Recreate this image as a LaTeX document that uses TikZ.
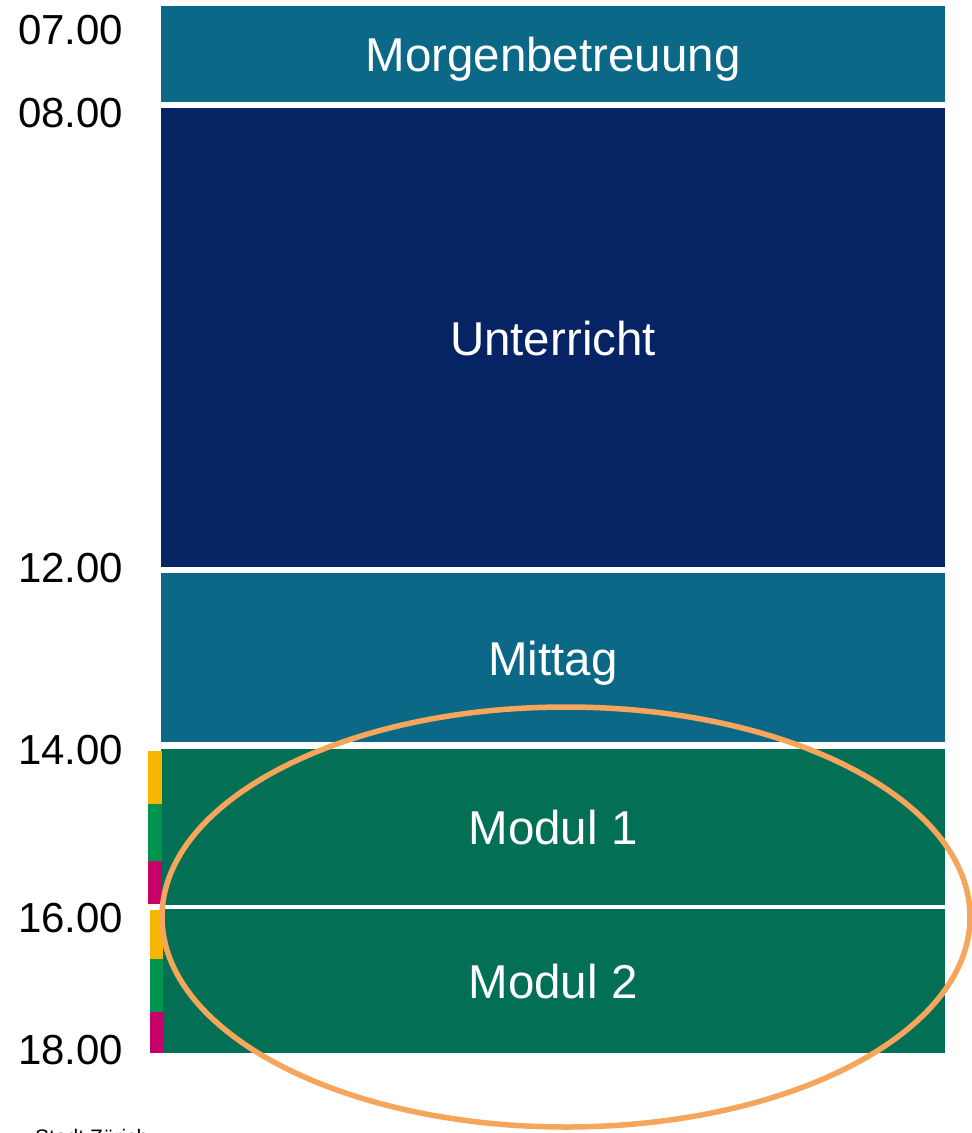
\documentclass[tikz,border=0pt]{standalone}
\usepackage{fontspec}
\setmainfont{Liberation Sans}
\definecolor{teal}{HTML}{0B6886}
\definecolor{navy}{HTML}{062463}
\definecolor{modgreen}{HTML}{037056}
\definecolor{barYellow}{HTML}{F7B500}
\definecolor{barGreen}{HTML}{00944E}
\definecolor{barMagenta}{HTML}{C8006A}
\definecolor{ring}{HTML}{F5A65B}
\begin{document}
\begin{tikzpicture}[x=1pt,y=-1pt,
  block/.style={rectangle, anchor=north west, inner sep=0pt, outer sep=0pt,
    minimum width=784pt, text=white, text height=35pt, text depth=0pt,
    font=\fontsize{47.5}{47.5}\selectfont},
  hour/.style={anchor=west, inner sep=0pt, font=\fontsize{42}{42}\selectfont},
  seg/.style={rectangle, anchor=north west, inner sep=0pt, outer sep=0pt}]
\useasboundingbox (0,0) rectangle (972,1133);
\clip (0,0) rectangle (972,1133);

% time blocks
\node[block, fill=teal, minimum height=95.5pt] (morgen) at (161,6) {Morgenbetreuung};
\node[block, fill=navy, minimum height=459pt] (unterricht) at (161,108) {Unterricht};
\node[block, fill=teal, minimum height=169pt] (mittag) at (161,573) {Mittag};
\node[block, fill=modgreen, minimum height=156pt] (modul1) at (161,749) {Modul 1};
\node[block, fill=modgreen, minimum height=143.5pt] (modul2) at (161,909) {Modul 2};

% coloured markers beside the modules
\node[seg, fill=barYellow, minimum width=14pt, minimum height=53pt] (y1) at (148,751) {};
\node[seg, fill=barGreen, minimum width=14pt, minimum height=57pt] (g1) at (148,804) {};
\node[seg, fill=barMagenta, minimum width=14pt, minimum height=43pt] (m1) at (148,861) {};
\node[seg, fill=barYellow, minimum width=13pt, minimum height=49pt] (y2) at (150,910) {};
\node[seg, fill=barGreen, minimum width=13pt, minimum height=53pt] (g2) at (150,959) {};
\node[seg, fill=barMagenta, minimum width=13pt, minimum height=40.5pt] (m2) at (150,1012) {};

% hour labels
\node[hour] (h07) at (18,30) {07.00};
\node[hour] (h08) at (18,113) {08.00};
\node[hour] (h12) at (18,568) {12.00};
\node[hour] (h14) at (18,750) {14.00};
\node[hour] (h16) at (18,918) {16.00};
\node[hour] (h18) at (18,1050) {18.00};

% highlight ring around the afternoon modules
\draw[ring, line width=5.5pt] (566,917) ellipse [x radius=404pt, y radius=210pt];

% footer
\node[anchor=base west, inner sep=0pt, font=\fontsize{21}{21}\selectfont] (footer) at (35,1144) {Stadt Zürich};
\end{tikzpicture}
\end{document}
